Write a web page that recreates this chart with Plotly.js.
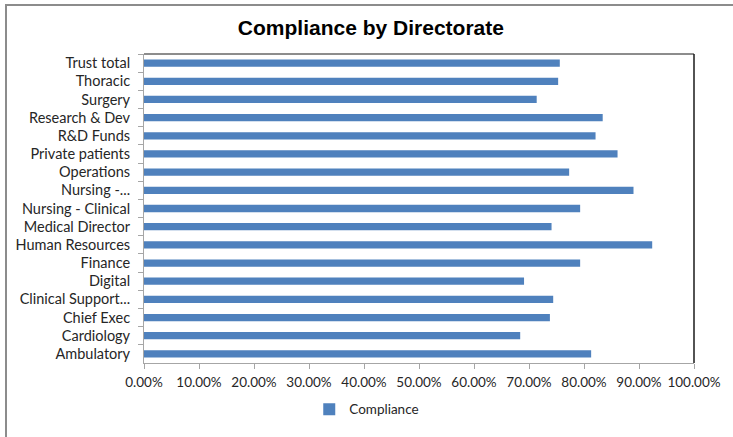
<!DOCTYPE html>
<html>
<head>
<meta charset="utf-8">
<script src="https://cdn.plot.ly/plotly-3.0.1.min.js"></script>
<style>
  html, body { margin: 0; padding: 0; background: #fff; }
  #wrap { position: relative; width: 733px; height: 437px; overflow: hidden; }
  #chart { position: absolute; left: 0; top: 0; width: 733px; height: 437px; }
  #frame { position: absolute; left: 5px; top: 4px; width: 740px; height: 450px;
           border-top: 2px solid #8c8c8c; border-left: 2px solid #8c8c8c; pointer-events: none; }
</style>
</head>
<body>
<div id="wrap">
  <div id="chart"></div>
  <div id="frame"></div>
</div>
<script>
const categories = [
  "Trust total", "Thoracic", "Surgery", "Research & Dev", "R&D Funds",
  "Private patients", "Operations", "Nursing -...", "Nursing - Clinical",
  "Medical Director", "Human Resources", "Finance", "Digital",
  "Clinical Support...", "Chief Exec", "Cardiology", "Ambulatory"
];
const compliance = [
  0.756, 0.753, 0.714, 0.834, 0.821,
  0.861, 0.773, 0.890, 0.793,
  0.741, 0.924, 0.793, 0.691,
  0.744, 0.738, 0.684, 0.813
];
const seriesName = "Compliance";
const tickValues = [0, 0.1, 0.2, 0.3, 0.4, 0.5, 0.6, 0.7, 0.8, 0.9, 1.0];

const labelFont = { family: "Lato, 'Open Sans', sans-serif", size: 14.5, color: "#262626" };
const xFont = { family: "Lato, 'Open Sans', sans-serif", size: 13.5, color: "#262626" };

const trace = {
  type: "bar",
  orientation: "h",
  name: seriesName,
  x: compliance,
  y: categories,
  marker: { color: "#4f81bd" },
  showlegend: true,
  hoverinfo: "x+y"
};

const layout = {
  width: 733,
  height: 437,
  margin: { l: 144, r: 39, t: 54, b: 71 },
  paper_bgcolor: "#ffffff",
  plot_bgcolor: "#ffffff",
  bargap: 0.6,
  title: {
    text: "<b>Compliance by Directorate</b>",
    font: { family: "'Liberation Sans', Arial, sans-serif", size: 21, color: "#000000" },
    x: 0.506, xanchor: "center",
    y: 1 - 28 / 437, yanchor: "middle", yref: "container"
  },
  xaxis: {
    range: [0, 1],
    tickvals: tickValues,
    tickformat: ".2%",
    showgrid: false,
    zeroline: false,
    showline: true,
    linecolor: "#a6a6a6",
    linewidth: 1,
    ticks: "outside",
    ticklen: 5,
    tickcolor: "#a6a6a6",
    tickfont: xFont,
    ticklabelstandoff: 2,
    fixedrange: true
  },
  yaxis: {
    type: "category",
    autorange: "reversed",
    showgrid: false,
    zeroline: false,
    showline: true,
    linecolor: "#a6a6a6",
    linewidth: 1,
    ticks: "outside",
    tickson: "boundaries",
    ticklen: 5,
    tickcolor: "#a6a6a6",
    tickfont: labelFont,
    ticklabelstandoff: 10,
    fixedrange: true
  },
  shapes: [
    { type: "line", xref: "x domain", yref: "y domain", x0: 0, x1: 1, y0: 1, y1: 1,
      line: { color: "#1a1a1a", width: 1 } },
    { type: "line", xref: "x domain", yref: "y domain", x0: 1, x1: 1, y0: 0, y1: 1,
      line: { color: "#1a1a1a", width: 1.5 } }
  ],
  showlegend: true,
  legend: {
    orientation: "h",
    x: 0.405, xanchor: "center",
    y: -0.15, yanchor: "middle",
    font: { family: "Lato, 'Open Sans', sans-serif", size: 13.5, color: "#262626" },
    itemwidth: 30
  }
};

Plotly.newPlot("chart", [trace], layout, { displayModeBar: false });
</script>
</body>
</html>
